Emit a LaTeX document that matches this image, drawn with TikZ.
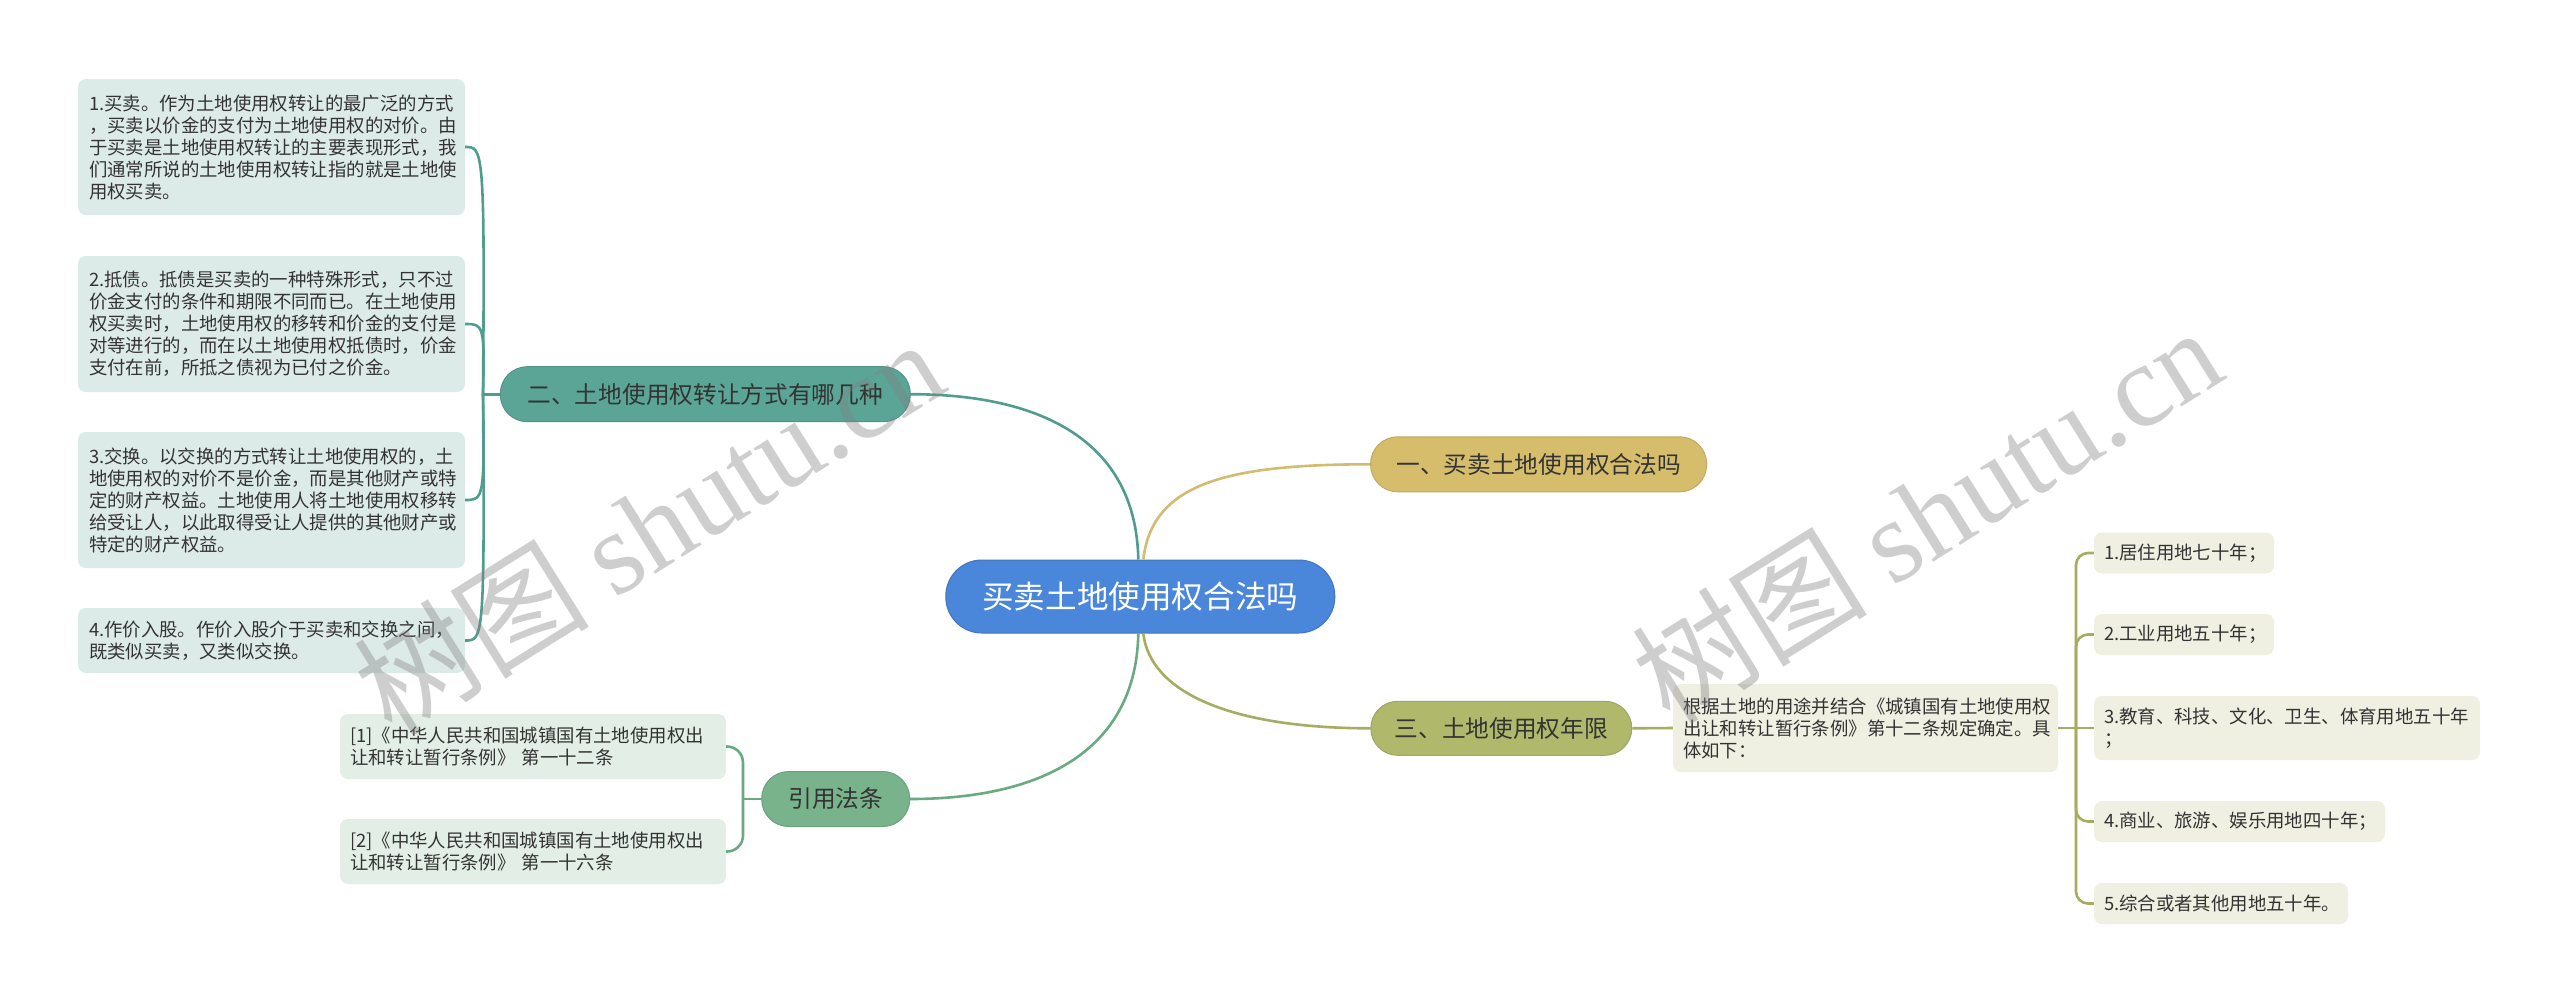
\documentclass[tikz,border=0pt]{standalone}
\usepackage{fontspec}
\setmainfont{Noto Sans CJK SC}
\newfontfamily\wmlatin{Liberation Serif}
\usetikzlibrary{calc}
\definecolor{cblue}{HTML}{4A86D9}
\definecolor{cgold}{HTML}{D5BD6C}
\definecolor{colive}{HTML}{B0B86C}
\definecolor{cteal}{HTML}{5BA597}
\definecolor{cgreen}{HTML}{78B38C}
\definecolor{lteal}{HTML}{4F9D8E}
\definecolor{lgold}{HTML}{D4BC6E}
\definecolor{lolive}{HTML}{A6AD60}
\definecolor{lgreen}{HTML}{6AAA82}
\definecolor{fteal}{HTML}{DDEBE8}
\definecolor{fgreen}{HTML}{E3EEE6}
\definecolor{folive}{HTML}{EFEFE2}
\definecolor{txt}{HTML}{333333}
\newcommand{\leaffont}{\fontsize{18.4pt}{22pt}\selectfont}
\newcommand{\branchfont}{\fontsize{23.7pt}{28pt}\selectfont}
\newcommand{\rootfont}{\fontsize{31.6pt}{36pt}\selectfont}
\begin{document}
\begin{tikzpicture}[x=1pt,y=-1pt,
  rootnode/.style={fill=cblue, draw=cblue!88!black, line width=1pt, rounded corners=36pt,
    minimum width=389pt, minimum height=73pt, inner sep=0pt, text=white, font=\rootfont},
  branch/.style={line width=1pt, rounded corners=27pt, inner sep=0pt, minimum height=55pt,
    text=txt, font=\branchfont},
  leafbox/.style={rounded corners=8pt, text=txt, align=left, inner ysep=0pt, font=\leaffont},
  leafL/.style={leafbox, fill=fteal, inner xsep=11pt, text width=365pt},
  leafC/.style={leafbox, fill=fgreen, inner xsep=10pt, text width=366pt, minimum height=65pt},
  leafR/.style={leafbox, fill=folive, inner xsep=10pt, minimum height=41pt},
  conn/.style={line width=2.6pt},
  wm/.style={text=gray, text opacity=0.38, font=\fontsize{118pt}{130pt}\selectfont, inner sep=0pt}
]
\path[use as bounding box, fill=white] (0,0) rectangle (2560,1004);

% nodes
\node[rootnode] (C) at (1140.3,596.5) {买卖土地使用权合法吗};
\node[branch, fill=cgold, draw=cgold!90!black, minimum width=336pt] (B1) at (1538.6,464.3) {一、买卖土地使用权合法吗};
\node[branch, fill=cteal, draw=cteal!90!black, minimum width=410pt] (B2) at (705.3,394.2) {二、土地使用权转让方式有哪几种};
\node[branch, fill=colive, draw=colive!90!black, minimum width=261pt, minimum height=54pt] (B3) at (1501.3,728.3) {三、土地使用权年限};
\node[branch, fill=cgreen, draw=cgreen!90!black, minimum width=148pt] (B4) at (835.7,799) {引用法条};

\node[leafL, minimum height=136pt] (L1) at (271.5,147) {1.买卖。作为土地使用权转让的最广泛的方式\\，买卖以价金的支付为土地使用权的对价。由\\于买卖是土地使用权转让的主要表现形式，我\\们通常所说的土地使用权转让指的就是土地使\\用权买卖。};
\node[leafL, minimum height=136pt] (L2) at (271.5,324) {2.抵债。抵债是买卖的一种特殊形式，只不过\\价金支付的条件和期限不同而已。在土地使用\\权买卖时，土地使用权的移转和价金的支付是\\对等进行的，而在以土地使用权抵债时，价金\\支付在前，所抵之债视为已付之价金。};
\node[leafL, minimum height=136pt] (L3) at (271.5,500) {3.交换。以交换的方式转让土地使用权的，土\\地使用权的对价不是价金，而是其他财产或特\\定的财产权益。土地使用人将土地使用权移转\\给受让人，以此取得受让人提供的其他财产或\\特定的财产权益。};
\node[leafL, minimum height=65pt] (L4) at (271.5,640.5) {4.作价入股。作价入股介于买卖和交换之间，\\既类似买卖，又类似交换。};

\node[leafC] (C1) at (533,746.5) {[1]《中华人民共和国城镇国有土地使用权出\\让和转让暂行条例》 第一十二条};
\node[leafC] (C2) at (533,851.5) {[2]《中华人民共和国城镇国有土地使用权出\\让和转让暂行条例》 第一十六条};

\node[leafbox, fill=folive, inner xsep=10pt, text width=365pt, minimum height=88pt] (G) at (1865.5,728) {根据土地的用途并结合《城镇国有土地使用权\\出让和转让暂行条例》第十二条规定确定。具\\体如下：};

\node[leafR, text width=160pt] (R1) at (2184,553) {1.居住用地七十年；};
\node[leafR, text width=160pt] (R2) at (2184,634.5) {2.工业用地五十年；};
\node[leafR, text width=366pt, minimum height=64pt] (R3) at (2287,728) {3.教育、科技、文化、卫生、体育用地五十年\\；};
\node[leafR, text width=271pt] (R4) at (2239.5,821.5) {4.商业、旅游、娱乐用地四十年；};
\node[leafR, text width=234pt] (R5) at (2221,903.5) {5.综合或者其他用地五十年。};

% junction points
\coordinate (J2) at (483,394.2);
\coordinate (J4) at (743,799);
\coordinate (J3) at (2076,728);

% connectors
\begin{scope}[on background layer/.style={}]
\draw[conn, lteal] ($(C.north)+(-2,0)$) .. controls (1136,440) and (1040,394.2) .. (B2.east);
\draw[conn, lgold] ($(C.north)+(3,0)$) .. controls (1152,484) and (1225,464.3) .. (B1.west);
\draw[conn, lolive] ($(C.south)+(3,0)$) .. controls (1150,692) and (1230,728.3) .. (B3.west);
\draw[conn, lgreen] ($(C.south)+(-2,0)$) .. controls (1136,752) and (1040,799) .. (B4.east);

\draw[conn, lteal] (B2.west) -- (J2);
\foreach \n in {L1,L2,L3,L4}{
  \draw[conn, lteal] (J2) .. controls ($(J2 |- \n.east)+(2,0)$) and (J2 |- \n.east) .. (\n.east);
}
\draw[conn, lgreen] (B4.west) -- (J4);
\foreach \n in {C1,C2}{
  \draw[conn, lgreen, rounded corners=16pt] (J4) |- (\n.east);
}
\draw[conn, lolive] (B3.east) -- (G.west);
\draw[conn, lolive] (G.east) -- (J3);
\foreach \n in {R1,R2,R4,R5}{
  \draw[conn, lolive, rounded corners=12pt] (J3) |- (\n.west);
}
\draw[conn, lolive] (J3) -- (R3.west);
\end{scope}

% watermarks
\node[wm, rotate=32] (W1) at (648,526) {树图 {\wmlatin shutu.cn}};
\node[wm, rotate=32] (W2) at (1926,514) {树图 {\wmlatin shutu.cn}};
\end{tikzpicture}
\end{document}
